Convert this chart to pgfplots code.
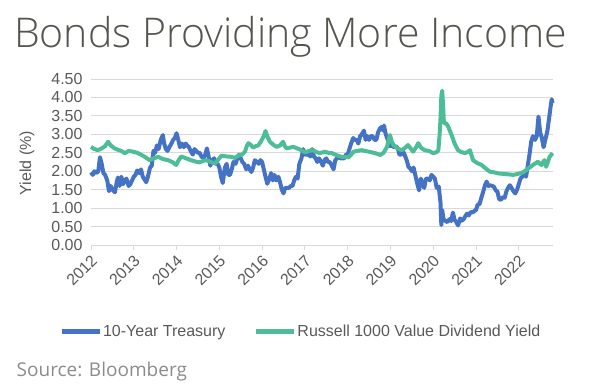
\documentclass[border=0pt]{standalone}
\usepackage{fontspec}
\setmainfont{Liberation Sans}
\IfFontExistsTF{Open Sans Light}{\newfontfamily\titlefont{Open Sans Light}}{\newfontfamily\titlefont{Open Sans}}
\newfontfamily\srcfont{Open Sans}
\usepackage{pgfplots}
\pgfplotsset{compat=1.18}
\definecolor{tblue}{HTML}{4472C4}
\definecolor{tgreen}{HTML}{4DBD98}
\definecolor{txt}{HTML}{595959}
\definecolor{gridc}{HTML}{D9D9D9}
\definecolor{ttl}{HTML}{55554F}
\definecolor{src}{HTML}{8C8C8C}
\newcommand{\lbl}{\fontsize{16bp}{19bp}\selectfont}
\begin{document}
\begin{tikzpicture}
\path[use as bounding box] (0,0) rectangle (600bp,384bp);
\node[anchor=base west, text=ttl, font=\titlefont\fontsize{41bp}{49bp}\selectfont, inner sep=0] at (14bp,336bp) {Bonds Providing More Income};
\node[anchor=west, text=src, font=\srcfont\fontsize{19bp}{22bp}\selectfont, inner sep=0] at (16.5bp,12bp) {Source: Bloomberg};
\begin{axis}[
  at={(91bp,139bp)}, anchor=south west,
  scale only axis, width=462bp, height=166bp,
  xmin=2012, xmax=2022.8, ymin=0, ymax=4.5,
  xtick={2012,2013,2014,2015,2016,2017,2018,2019,2020,2021,2022},
  xticklabels={2012,2013,2014,2015,2016,2017,2018,2019,2020,2021,2022},
  ytick={0,0.5,1,1.5,2,2.5,3,3.5,4,4.5},
  yticklabel style={font=\lbl, text=txt, /pgf/number format/fixed, /pgf/number format/fixed zerofill, /pgf/number format/precision=2, /pgf/number format/assume math mode=true},
  xticklabel style={font=\lbl, text=txt, rotate=45, anchor=north east, inner sep=2bp, xshift=-1bp},
  ymajorgrids, grid style={gridc, line width=0.9bp},
  axis lines*=left,
  x axis line style={gridc, line width=0.9bp},
  y axis line style={draw=none},
  ytick style={draw=none},
  xtick style={gridc, line width=0.9bp},
  tick align=outside, major tick length=5bp,
  xtick pos=bottom,
  ylabel={Yield (\%)},
  every axis y label/.style={at={(axis description cs:-0.1385,0.494)}, rotate=90, anchor=center, font=\lbl, text=txt},
  legend style={at={(axis description cs:-0.075,-0.52)}, anchor=west, draw=none, fill=none, legend columns=2, font=\lbl, text=txt, nodes={inner xsep=0.5bp}, /tikz/every even column/.append style={column sep=28bp}},
  legend image code/.code={\draw[#1, line width=5bp] (0bp,0bp) -- (38bp,0bp);},
  clip=false,
]
\addplot[tblue, line width=4bp, line join=round] coordinates {
(2012.00,1.97) (2012.04,1.90) (2012.08,2.00) (2012.13,1.95) (2012.17,2.00) (2012.21,2.38) (2012.25,2.20) (2012.29,1.95) (2012.33,1.90) (2012.38,1.75) (2012.42,1.46) (2012.46,1.60) (2012.50,1.50) (2012.56,1.43) (2012.60,1.70) (2012.63,1.83) (2012.67,1.60) (2012.71,1.85) (2012.75,1.65) (2012.79,1.75) (2012.83,1.80) (2012.88,1.60) (2012.92,1.65) (2012.96,1.75)
(2013.00,1.85) (2013.04,1.90) (2013.08,2.02) (2013.13,1.95) (2013.17,2.05) (2013.21,1.85) (2013.25,1.78) (2013.29,1.70) (2013.33,1.85) (2013.38,2.10) (2013.42,2.15) (2013.46,2.55) (2013.50,2.50) (2013.54,2.70) (2013.58,2.60) (2013.63,2.85) (2013.68,2.98) (2013.71,2.75) (2013.75,2.60) (2013.79,2.55) (2013.83,2.65) (2013.88,2.75) (2013.92,2.85) (2013.96,2.90)
(2014.00,3.03) (2014.04,2.85) (2014.08,2.65) (2014.13,2.75) (2014.17,2.65) (2014.21,2.75) (2014.25,2.70) (2014.29,2.65) (2014.33,2.55) (2014.38,2.45) (2014.42,2.60) (2014.46,2.55) (2014.50,2.50) (2014.54,2.50) (2014.58,2.40) (2014.63,2.35) (2014.67,2.45) (2014.71,2.62) (2014.75,2.40) (2014.79,2.15) (2014.83,2.30) (2014.88,2.35) (2014.92,2.20) (2014.96,2.20)
(2015.00,2.10) (2015.04,1.85) (2015.08,1.68) (2015.13,2.10) (2015.17,2.20) (2015.21,1.90) (2015.25,1.90) (2015.29,2.05) (2015.33,2.25) (2015.38,2.20) (2015.42,2.35) (2015.46,2.45) (2015.50,2.35) (2015.54,2.25) (2015.58,2.20) (2015.63,2.05) (2015.67,2.15) (2015.71,2.05) (2015.75,1.98) (2015.79,2.10) (2015.83,2.30) (2015.88,2.25) (2015.92,2.20) (2015.96,2.30)
(2016.00,2.25) (2016.04,2.05) (2016.08,1.85) (2016.12,1.66) (2016.17,1.80) (2016.21,1.95) (2016.25,1.75) (2016.29,1.90) (2016.33,1.75) (2016.38,1.85) (2016.42,1.70) (2016.46,1.50) (2016.50,1.40) (2016.54,1.55) (2016.58,1.55) (2016.63,1.55) (2016.67,1.60) (2016.71,1.60) (2016.75,1.75) (2016.79,1.85) (2016.83,1.80) (2016.87,2.20) (2016.92,2.35) (2016.96,2.60)
(2017.00,2.45) (2017.04,2.45) (2017.08,2.45) (2017.13,2.40) (2017.17,2.60) (2017.21,2.40) (2017.25,2.35) (2017.29,2.25) (2017.33,2.35) (2017.38,2.25) (2017.42,2.15) (2017.46,2.30) (2017.50,2.35) (2017.54,2.25) (2017.58,2.25) (2017.63,2.15) (2017.67,2.05) (2017.71,2.30) (2017.75,2.35) (2017.79,2.40) (2017.83,2.35) (2017.88,2.35) (2017.92,2.35) (2017.96,2.45)
(2018.00,2.45) (2018.04,2.60) (2018.08,2.75) (2018.13,2.90) (2018.17,2.85) (2018.21,2.85) (2018.25,2.75) (2018.29,2.95) (2018.33,3.00) (2018.38,3.10) (2018.42,2.85) (2018.46,2.95) (2018.50,2.85) (2018.54,2.95) (2018.58,2.95) (2018.63,2.85) (2018.67,2.85) (2018.71,3.05) (2018.75,3.15) (2018.79,3.20) (2018.83,3.10) (2018.85,3.24) (2018.88,3.05) (2018.92,2.90) (2018.96,2.80)
(2019.00,2.68) (2019.04,2.70) (2019.08,2.65) (2019.13,2.68) (2019.17,2.62) (2019.21,2.45) (2019.25,2.45) (2019.29,2.55) (2019.33,2.45) (2019.38,2.30) (2019.42,2.12) (2019.46,2.08) (2019.50,2.00) (2019.54,2.10) (2019.58,1.90) (2019.63,1.65) (2019.67,1.48) (2019.71,1.80) (2019.75,1.65) (2019.79,1.55) (2019.83,1.80) (2019.88,1.80) (2019.92,1.75) (2019.96,1.90)
(2020.00,1.85) (2020.04,1.80) (2020.08,1.55) (2020.13,1.58) (2020.17,1.15) (2020.19,0.54) (2020.21,0.95) (2020.24,0.70) (2020.29,0.65) (2020.33,0.62) (2020.38,0.70) (2020.42,0.65) (2020.46,0.88) (2020.50,0.68) (2020.54,0.62) (2020.58,0.53) (2020.63,0.72) (2020.67,0.66) (2020.71,0.70) (2020.75,0.78) (2020.79,0.85) (2020.83,0.80) (2020.88,0.90) (2020.92,0.88) (2020.96,0.92)
(2021.00,0.95) (2021.04,1.10) (2021.08,1.10) (2021.13,1.30) (2021.17,1.45) (2021.21,1.62) (2021.25,1.72) (2021.29,1.60) (2021.33,1.62) (2021.38,1.60) (2021.42,1.58) (2021.46,1.48) (2021.50,1.45) (2021.54,1.25) (2021.58,1.22) (2021.63,1.30) (2021.67,1.28) (2021.71,1.45) (2021.75,1.55) (2021.79,1.62) (2021.83,1.55) (2021.88,1.45) (2021.92,1.40) (2021.96,1.50)
(2022.00,1.65) (2022.04,1.80) (2022.08,1.85) (2022.13,1.95) (2022.17,1.85) (2022.21,2.15) (2022.25,2.45) (2022.29,2.80) (2022.33,2.95) (2022.38,2.85) (2022.42,2.95) (2022.46,3.48) (2022.50,3.05) (2022.54,2.90) (2022.58,2.65) (2022.62,2.85) (2022.67,3.10) (2022.71,3.45) (2022.75,3.80) (2022.77,3.95) (2022.79,3.85)
};
\addlegendentry{10-Year Treasury}
\addplot[tgreen, line width=4bp, line join=round] coordinates {
(2012.00,2.66) (2012.08,2.60) (2012.16,2.57) (2012.25,2.62) (2012.33,2.68) (2012.40,2.80) (2012.46,2.70) (2012.55,2.62) (2012.63,2.58) (2012.71,2.55) (2012.79,2.49) (2012.88,2.55) (2012.98,2.53)
(2013.08,2.50) (2013.18,2.44) (2013.27,2.38) (2013.37,2.30) (2013.47,2.35) (2013.57,2.39) (2013.68,2.33) (2013.80,2.30) (2013.90,2.25) (2013.99,2.17)
(2014.05,2.30) (2014.11,2.40) (2014.22,2.35) (2014.34,2.30) (2014.45,2.26) (2014.54,2.24) (2014.62,2.28) (2014.69,2.30) (2014.78,2.26) (2014.90,2.21)
(2015.00,2.35) (2015.05,2.42) (2015.17,2.40) (2015.29,2.39) (2015.36,2.36) (2015.44,2.42) (2015.53,2.45) (2015.60,2.53) (2015.64,2.68) (2015.68,2.76) (2015.73,2.72) (2015.79,2.64) (2015.85,2.68) (2015.91,2.70) (2015.97,2.80)
(2016.03,2.93) (2016.08,3.09) (2016.12,2.95) (2016.18,2.80) (2016.26,2.72) (2016.34,2.66) (2016.42,2.70) (2016.49,2.80) (2016.53,2.68) (2016.57,2.62) (2016.65,2.64) (2016.73,2.66) (2016.82,2.62) (2016.92,2.57)
(2017.00,2.51) (2017.10,2.55) (2017.19,2.57) (2017.27,2.52) (2017.35,2.49) (2017.47,2.53) (2017.55,2.50) (2017.63,2.49) (2017.75,2.43) (2017.86,2.39)
(2018.02,2.38) (2018.08,2.45) (2018.14,2.53) (2018.22,2.55) (2018.33,2.57) (2018.45,2.54) (2018.57,2.51) (2018.67,2.48) (2018.76,2.44) (2018.84,2.50) (2018.92,2.66) (2018.97,2.90) (2018.99,2.98)
(2019.03,2.80) (2019.07,2.71) (2019.16,2.62) (2019.26,2.57) (2019.34,2.63) (2019.41,2.71) (2019.47,2.62) (2019.53,2.53) (2019.60,2.65) (2019.65,2.76) (2019.72,2.63) (2019.80,2.57) (2019.90,2.55)
(2020.00,2.49) (2020.08,2.52) (2020.12,2.57) (2020.15,3.00) (2020.17,3.43) (2020.19,4.05) (2020.21,4.18) (2020.23,3.80) (2020.25,3.30) (2020.30,3.30) (2020.35,3.21) (2020.43,2.98) (2020.50,2.75) (2020.58,2.57) (2020.66,2.52) (2020.74,2.49) (2020.80,2.52) (2020.86,2.57) (2020.93,2.30)
(2021.03,2.22) (2021.13,2.17) (2021.22,2.08) (2021.32,1.99) (2021.42,1.97) (2021.52,1.94) (2021.62,1.93) (2021.71,1.92) (2021.80,1.91) (2021.87,1.90) (2021.95,1.92)
(2022.02,1.94) (2022.10,1.97) (2022.17,2.03) (2022.25,2.10) (2022.33,2.17) (2022.40,2.22) (2022.45,2.26) (2022.49,2.20) (2022.53,2.17) (2022.57,2.25) (2022.60,2.30) (2022.64,2.12) (2022.68,2.25) (2022.72,2.39) (2022.79,2.49)
};
\addlegendentry{Russell 1000 Value Dividend Yield}
\end{axis}
\end{tikzpicture}
\end{document}
